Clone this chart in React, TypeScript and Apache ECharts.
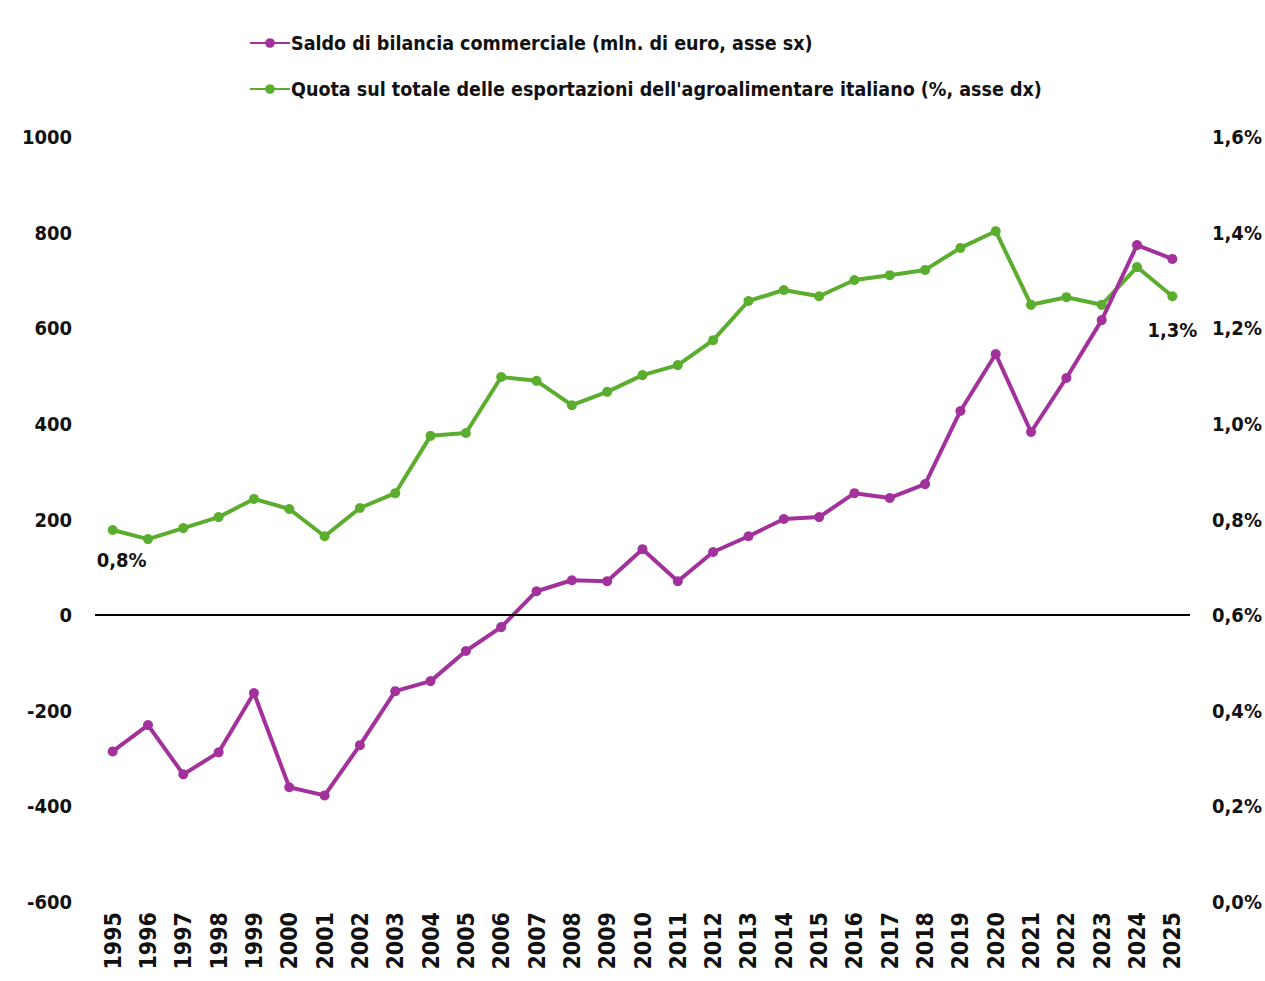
import React, { useEffect, useRef } from "react";
import * as echarts from "echarts";

const years = ["1995","1996","1997","1998","1999","2000","2001","2002","2003","2004","2005","2006","2007","2008","2009","2010","2011","2012","2013","2014","2015","2016","2017","2018","2019","2020","2021","2022","2023","2024","2025"];

const saldo = [-285,-230,-333,-287,-163,-360,-377,-272,-159,-138,-75,-25,50,73,71,138,71,132,165,201,205,255,245,274,427,546,383,496,617,774,745];

const quota = [0.778,0.759,0.782,0.805,0.843,0.822,0.765,0.824,0.855,0.975,0.981,1.098,1.090,1.039,1.067,1.102,1.123,1.175,1.257,1.280,1.267,1.301,1.311,1.322,1.368,1.403,1.249,1.265,1.249,1.328,1.267];

const saldoName = "Saldo di bilancia commerciale (mln. di euro, asse sx)";
const quotaName = "Quota sul totale delle esportazioni dell'agroalimentare italiano (%, asse dx)";

const FONT = "'Liberation Sans Narrow', 'DejaVu Sans Condensed', 'Noto Sans', sans-serif";
const PURPLE = "#A2319C";
const GREEN = "#5BAD2D";

export default function App() {
  const ref = useRef<HTMLDivElement>(null);
  useEffect(() => {
    if (!ref.current) return;
    const chart = echarts.init(ref.current, null, { renderer: "svg" });
    const quotaData = quota.map((v, i) => {
      if (i === 0) {
        return { value: v, label: { show: true, position: "bottom", offset: [9, 10], formatter: "0,8%" } };
      }
      if (i === quota.length - 1) {
        return { value: v, label: { show: true, position: "bottom", offset: [0, 14], formatter: "1,3%" } };
      }
      return v;
    });
    chart.setOption({
      animation: false,
      backgroundColor: "#ffffff",
      textStyle: { fontFamily: FONT },
      legend: {
        orient: "vertical",
        left: 244,
        top: 28,
        itemGap: 26,
        itemWidth: 40,
        itemHeight: 12,
        textStyle: { fontFamily: FONT, fontSize: 19.5, fontWeight: "bold", color: "#111", padding: [0, 0, 0, -4] },
        data: [saldoName, quotaName],
      },
      grid: { left: 95, right: 75, top: 137, bottom: 79 },
      xAxis: {
        type: "category",
        data: years,
        boundaryGap: true,
        axisLine: { show: false, onZero: false },
        axisTick: { show: false },
        axisLabel: {
          rotate: 90,
          interval: 0,
          margin: 10,
          fontFamily: FONT,
          fontSize: 23,
          fontWeight: "bold",
          color: "#111",
        },
      },
      yAxis: [
        {
          type: "value",
          min: -600,
          max: 1000,
          interval: 200,
          splitLine: { show: false },
          axisLine: { show: false },
          axisTick: { show: false },
          axisLabel: {
            margin: 23,
            fontFamily: FONT,
            fontSize: 20,
            fontWeight: "bold",
            color: "#111",
            formatter: (v: number) => String(v),
          },
        },
        {
          type: "value",
          min: 0,
          max: 1.6,
          interval: 0.2,
          splitLine: { show: false },
          axisLine: { show: false },
          axisTick: { show: false },
          axisLabel: {
            margin: 22,
            fontFamily: FONT,
            fontSize: 20,
            fontWeight: "bold",
            color: "#111",
            formatter: (v: number) => v.toFixed(1).replace(".", ",") + "%",
          },
        },
      ],
      series: [
        {
          name: saldoName,
          type: "line",
          yAxisIndex: 0,
          data: saldo,
          symbol: "circle",
          symbolSize: 10,
          lineStyle: { width: 4, color: PURPLE },
          itemStyle: { color: PURPLE },
          z: 3,
          markLine: {
            silent: true,
            symbol: ["none", "none"],
            label: { show: false },
            lineStyle: { color: "#000", type: "solid", width: 2 },
            data: [{ yAxis: 0 }],
          },
        },
        {
          name: quotaName,
          type: "line",
          yAxisIndex: 1,
          data: quotaData,
          symbol: "circle",
          symbolSize: 10,
          lineStyle: { width: 4, color: GREEN },
          itemStyle: { color: GREEN },
          label: { fontFamily: FONT, fontSize: 20, fontWeight: "bold", color: "#111" },
          z: 2,
        },
      ],
    });
    return () => chart.dispose();
  }, []);
  return (
    <div
      ref={ref}
      style={{ position: "fixed", left: 0, top: 0, width: 1265, height: 981, background: "#fff" }}
    />
  );
}
